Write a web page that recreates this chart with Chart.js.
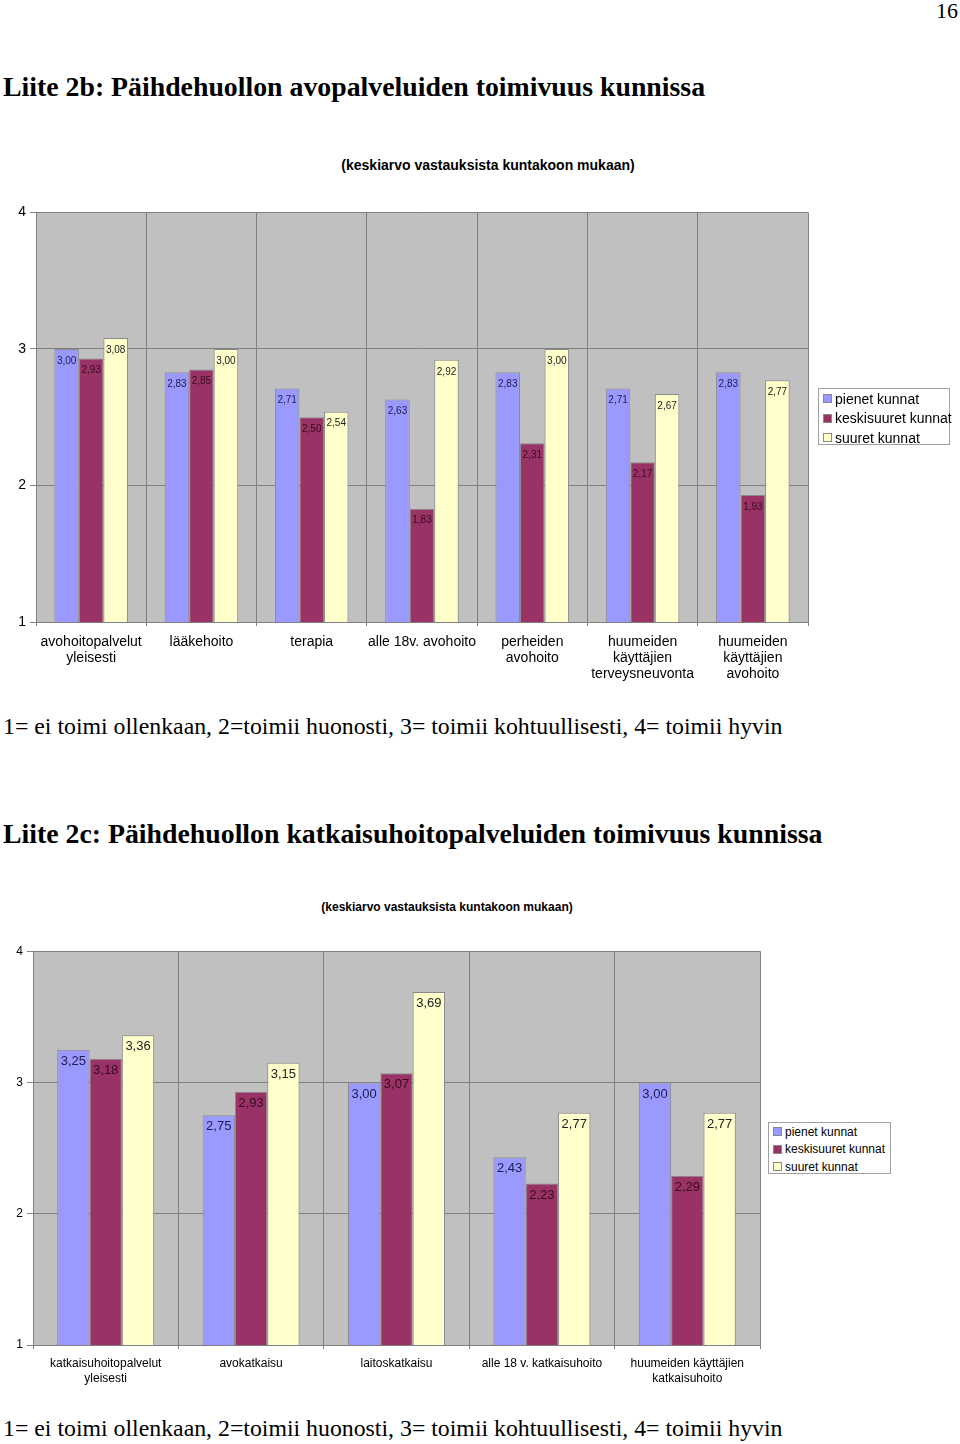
<!DOCTYPE html>
<html>
<head>
<meta charset="utf-8">
<script src="https://cdn.jsdelivr.net/npm/chart.js@4.4.0/dist/chart.umd.min.js"></script>
<style>
  body { margin: 0; background: #fff; width: 960px; height: 1444px; position: relative; overflow: hidden; }
  .serif { font-family: "Liberation Serif", "Times New Roman", serif; position: absolute; white-space: nowrap; color: #000; }
  .sub { font-family: "Liberation Sans", Arial, sans-serif; font-weight: bold; position: absolute; white-space: nowrap; transform: translateX(-50%); }
  canvas { position: absolute; left: 0; }
  .legend { position: absolute; background: #fff; border: 1px solid #a0a0a0; font-family: "Liberation Sans", Arial, sans-serif; overflow: visible; }
  .legend div { display: flex; align-items: center; white-space: nowrap; }
  .legend span.box { display: inline-block; flex-shrink: 0; border: 1px solid #888; box-sizing: border-box; }
</style>
</head>
<body>
<div class="serif" style="right:2px; top:-2px; font-size:22px;">16</div>
<div class="serif" style="left:3px; top:71px; font-size:27.8px; font-weight:bold;">Liite 2b: Päihdehuollon avopalveluiden toimivuus kunnissa</div>
<div class="sub" style="left:488px; top:157px; font-size:14px;">(keskiarvo vastauksista kuntakoon mukaan)</div>
<canvas id="chart1" width="960" height="490" style="top:200px;"></canvas>
<div class="legend" id="legend1" style="left:818px; top:388px; width:132px; height:57px;"></div>
<div class="serif" style="left:3px; top:713px; font-size:23.8px;">1= ei toimi ollenkaan, 2=toimii huonosti, 3= toimii kohtuullisesti, 4= toimii hyvin</div>

<div class="serif" style="left:3px; top:818px; font-size:27.8px; font-weight:bold;">Liite 2c: Päihdehuollon katkaisuhoitopalveluiden toimivuus kunnissa</div>
<div class="sub" style="left:447px; top:900px; font-size:12px;">(keskiarvo vastauksista kuntakoon mukaan)</div>
<canvas id="chart2" width="960" height="450" style="top:940px;"></canvas>
<div class="legend" id="legend2" style="left:768px; top:1122px; width:123px; height:52px;"></div>
<div class="serif" style="left:3px; top:1415px; font-size:23.8px;">1= ei toimi ollenkaan, 2=toimii huonosti, 3= toimii kohtuullisesti, 4= toimii hyvin</div>

<script>
// sarjat ja värit
const seriesNames = ['pienet kunnat', 'keskisuuret kunnat', 'suuret kunnat'];
const seriesColors = ['#9999ff', '#993366', '#ffffcc'];
const labelColors = ['#1c1c50', '#3a0a22', '#222222'];
const yTicks = [1, 2, 3, 4];

// Liite 2b
const categories1 = [
    ['avohoitopalvelut', 'yleisesti'],
    'lääkehoito',
    'terapia',
    'alle 18v. avohoito',
    ['perheiden', 'avohoito'],
    ['huumeiden', 'käyttäjien', 'terveysneuvonta'],
    ['huumeiden', 'käyttäjien', 'avohoito']
];
const pienet1 = [3.00, 2.83, 2.71, 2.63, 2.83, 2.71, 2.83];
const keskisuuret1 = [2.93, 2.85, 2.50, 1.83, 2.31, 2.17, 1.93];
const suuret1 = [3.08, 3.00, 2.54, 2.92, 3.00, 2.67, 2.77];

// Liite 2c
const categories2 = [
    ['katkaisuhoitopalvelut', 'yleisesti'],
    'avokatkaisu',
    'laitoskatkaisu',
    'alle 18 v. katkaisuhoito',
    ['huumeiden käyttäjien', 'katkaisuhoito']
];
const pienet2 = [3.25, 2.75, 3.00, 2.43, 3.00];
const keskisuuret2 = [3.18, 2.93, 3.07, 2.23, 2.29];
const suuret2 = [3.36, 3.15, 3.69, 2.77, 2.77];

const fmt = v => v.toFixed(2).replace('.', ',');

// harmaa piirtoalue
const plotBg = {
    id: 'plotBg',
    beforeDraw(chart) {
        const { ctx, chartArea: a } = chart;
        ctx.save();
        ctx.fillStyle = '#c0c0c0';
        ctx.fillRect(a.left, a.top, a.right - a.left, a.bottom - a.top);
        ctx.restore();
    }
};

// arvot pylväiden sisään ylälaitaan
function valueLabels(fontSize, offset) {
    return {
        id: 'valueLabels',
        afterDatasetsDraw(chart) {
            const ctx = chart.ctx;
            ctx.save();
            ctx.font = fontSize + 'px "Liberation Sans", Arial, sans-serif';
            ctx.textAlign = 'center';
            ctx.textBaseline = 'top';
            chart.data.datasets.forEach((ds, i) => {
                chart.getDatasetMeta(i).data.forEach((bar, j) => {
                    ctx.fillStyle = labelColors[i];
                    ctx.fillText(fmt(ds.data[j]), bar.x, bar.y + offset);
                });
            });
            ctx.restore();
        }
    };
}

function makeChart(id, cats, data, o) {
    return new Chart(document.getElementById(id), {
        type: 'bar',
        data: {
            labels: cats,
            datasets: data.map((d, i) => ({
                label: seriesNames[i],
                data: d,
                backgroundColor: seriesColors[i],
                borderColor: '#8a8a8a',
                borderWidth: 1,
                categoryPercentage: 0.667,
                barPercentage: 1.0
            }))
        },
        plugins: [plotBg, valueLabels(o.valueFont, o.valueOffset)],
        options: {
            responsive: false,
            devicePixelRatio: 1,
            animation: false,
            layout: { padding: { top: o.top, right: o.right, left: 0, bottom: 0 } },
            plugins: { legend: { display: false }, tooltip: { enabled: false } },
            scales: {
                x: {
                    afterFit: s => { s.height = o.xHeight; },
                    grid: { color: '#808080', tickLength: 4, offset: true },
                    border: { color: '#808080' },
                    ticks: {
                        color: '#000',
                        maxRotation: 0,
                        autoSkip: false,
                        padding: o.xPad,
                        font: { family: '"Liberation Sans", Arial, sans-serif', size: o.xFont, lineHeight: o.xLine }
                    }
                },
                y: {
                    min: 1, max: 4,
                    afterFit: s => { s.width = o.yWidth; },
                    afterBuildTicks: s => { s.ticks = yTicks.map(v => ({ value: v })); },
                    grid: { color: '#808080', tickLength: 6 },
                    border: { color: '#808080' },
                    ticks: {
                        color: '#000',
                        padding: 4,
                        font: { family: '"Liberation Sans", Arial, sans-serif', size: o.yFont }
                    }
                }
            }
        }
    });
}

makeChart('chart1', categories1, [pienet1, keskisuuret1, suuret1], {
    top: 12, right: 152, xHeight: 68, yWidth: 36,
    xFont: 14, xLine: 1.15, xPad: 8, yFont: 14, valueFont: 10, valueOffset: 7
});
makeChart('chart2', categories2, [pienet2, keskisuuret2, suuret2], {
    top: 11, right: 200, xHeight: 45, yWidth: 33,
    xFont: 12, xLine: 1.25, xPad: 7, yFont: 12, valueFont: 13, valueOffset: 5
});

// selitteet
function buildLegend(id, fontSize, box, rowH, padTop) {
    const el = document.getElementById(id);
    el.style.paddingTop = padTop + 'px';
    el.style.boxSizing = 'border-box';
    seriesNames.forEach((name, i) => {
        const row = document.createElement('div');
        row.style.height = rowH + 'px';
        row.style.fontSize = fontSize + 'px';
        row.style.paddingLeft = '4px';
        const sw = document.createElement('span');
        sw.className = 'box';
        sw.style.width = box + 'px';
        sw.style.height = box + 'px';
        sw.style.background = seriesColors[i];
        sw.style.marginRight = '3px';
        row.appendChild(sw);
        row.appendChild(document.createTextNode(name));
        el.appendChild(row);
    });
}
buildLegend('legend1', 14, 9, 19.5, 0);
buildLegend('legend2', 12, 9, 17.5, 0);
</script>
</body>
</html>
